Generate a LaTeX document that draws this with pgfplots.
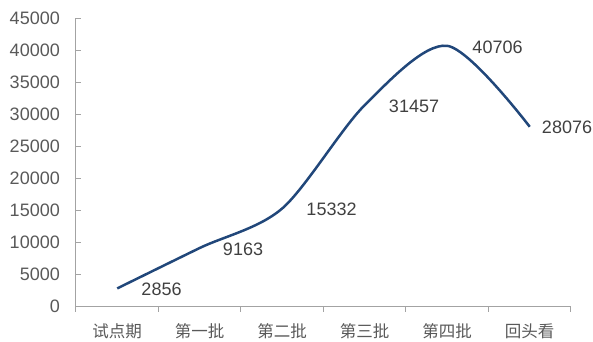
\documentclass[border=0pt]{standalone}
\usepackage{pgfplots}
\pgfplotsset{compat=1.18}
\usepackage{pgfplotstable}
\usepackage{fontspec}
\setmainfont{Liberation Sans}
\newfontfamily\cjk{Noto Sans CJK SC}

\definecolor{seriesblue}{HTML}{21477A}
\definecolor{axisgray}{HTML}{A3A3A3}
\definecolor{ticktext}{HTML}{595959}
\definecolor{labeltext}{HTML}{404040}

% x: category position, y: count, dx: label offset to the right (bp)
\pgfplotstableread{
x y dx
0 2856 23
1 9163 22
2 15332 23
3 31457 23
4 40706 24
5 28076 11
}\batchdata

\begin{document}
\begin{tikzpicture}
\begin{axis}[
  at={(0,0)}, anchor=south west,
  scale only axis,
  width=495bp, height=288.4bp,
  xmin=-0.5, xmax=5.5,
  ymin=0, ymax=45000,
  ytick={0,5000,...,45000},
  xtick={-0.5,0.5,...,5.5},
  x tick label as interval,
  xticklabels={试点期,第一批,第二批,第三批,第四批,回头看},
  axis x line*=bottom,
  axis y line*=left,
  axis line style={draw=axisgray, line width=1bp, -},
  major tick style={draw=axisgray, line width=1bp},
  major tick length=5bp,
  xtick align=outside,
  ytick align=inside,
  scaled y ticks=false,
  /pgf/number format/1000 sep={},
  /pgf/number format/assume math mode=true,
  y tick label style={font=\fontsize{18bp}{20bp}\selectfont, text=ticktext, inner sep=0pt, anchor=east, xshift=-16bp},
  x tick label style={font=\cjk\fontsize{16.5bp}{18bp}\selectfont, text=ticktext, inner sep=0pt, anchor=center, yshift=-19.7bp},
  clip=false,
]
\addplot[
  seriesblue, line width=2.5bp, smooth,
  nodes near coords={\pgfmathprintnumber[fixed,precision=0]{\pgfplotspointmeta}},
  visualization depends on={\thisrow{dx}\as\labeldx},
  every node near coord/.append style={
    font=\fontsize{18bp}{20bp}\selectfont, text=labeltext,
    anchor=west, inner sep=0pt, xshift=\labeldx bp, yshift=-1bp},
] table[x=x, y=y] {\batchdata};
\end{axis}
\pgfresetboundingbox
\useasboundingbox (-76bp,-35.3bp) rectangle (517bp,306.7bp);
\end{tikzpicture}
\end{document}
